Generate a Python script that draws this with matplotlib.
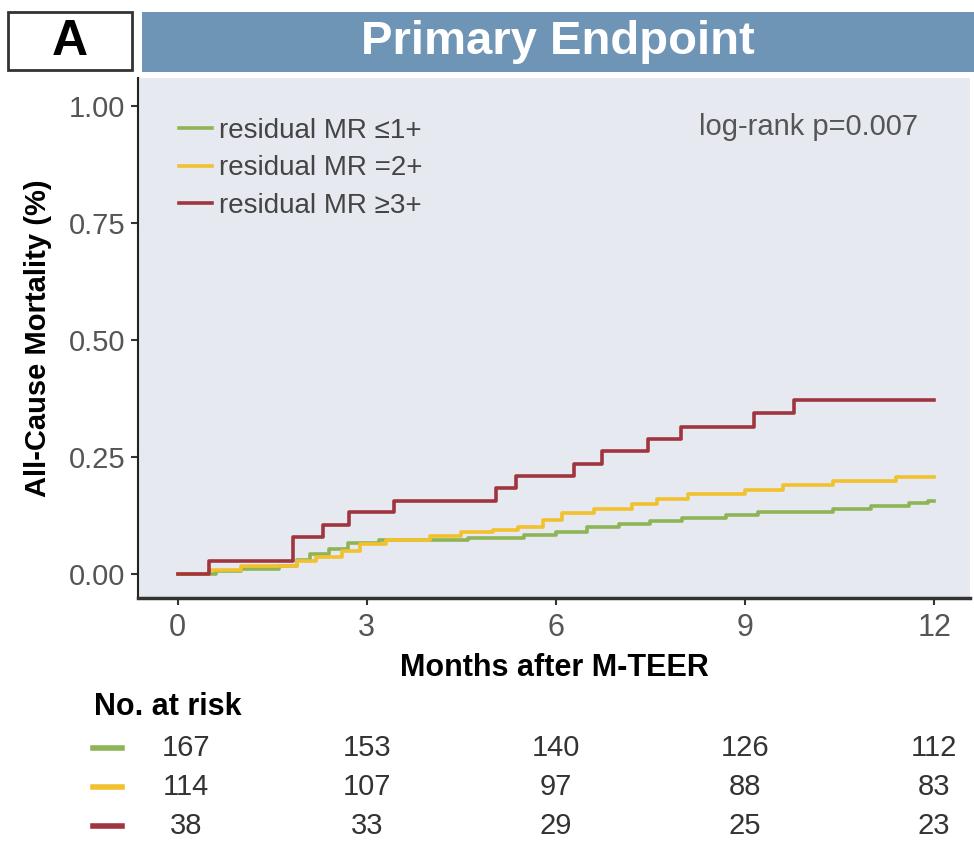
import matplotlib
matplotlib.use("Agg")
import matplotlib.pyplot as plt
import matplotlib.transforms as mtransforms
from matplotlib.patches import Rectangle

plt.rcParams['font.family'] = ['Liberation Sans', 'DejaVu Sans']

# Kaplan-Meier curves (months, cumulative mortality)
green_t = [0, 0.6, 1.0, 1.6, 1.9, 2.1, 2.4, 2.7, 3.2, 4.6, 5.5, 6.0, 6.5, 7.0, 7.5, 8.0, 8.7, 9.2, 10.4, 11.0, 11.6, 11.9, 12]
green_y = [0, 0.006, 0.012, 0.018, 0.03, 0.042, 0.054, 0.066, 0.072, 0.078, 0.084, 0.09, 0.10, 0.108, 0.114, 0.12, 0.127, 0.133, 0.139, 0.145, 0.151, 0.156, 0.156]

yellow_t = [0, 0.5, 1.0, 1.9, 2.2, 2.6, 2.9, 3.3, 4.0, 4.5, 5.0, 5.4, 5.8, 6.1, 6.6, 7.2, 7.6, 8.1, 9.0, 9.6, 10.4, 11.4, 12]
yellow_y = [0, 0.009, 0.018, 0.027, 0.036, 0.05, 0.064, 0.073, 0.082, 0.09, 0.095, 0.10, 0.115, 0.13, 0.14, 0.15, 0.16, 0.172, 0.18, 0.19, 0.2, 0.208, 0.208]

red_t = [0, 0.49, 1.83, 2.30, 2.71, 3.43, 5.05, 5.37, 6.29, 6.73, 7.46, 7.98, 9.14, 9.78, 12]
red_y = [0, 0.027, 0.080, 0.106, 0.132, 0.157, 0.183, 0.209, 0.236, 0.263, 0.289, 0.315, 0.345, 0.372, 0.372]

labels = ['residual MR \u22641+', 'residual MR =2+', 'residual MR \u22653+']
colors = ['#8db456', '#f2c12e', '#a0343f']

risk_times = [0, 3, 6, 9, 12]
risk_green = [167, 153, 140, 126, 112]
risk_yellow = [114, 107, 97, 88, 83]
risk_red = [38, 33, 29, 25, 23]

fig = plt.figure(figsize=(9.74, 8.44), dpi=100)
W, H = 974, 844

# header: panel letter box and title bar
fig.patches.append(Rectangle((8 / W, 1 - 70 / H), 124 / W, 58 / H, transform=fig.transFigure,
                             facecolor='white', edgecolor='#333333', linewidth=2))
fig.text(70 / W, 1 - 42 / H, 'A', fontsize=36, fontweight='bold', ha='center', va='center')
fig.patches.append(Rectangle((142 / W, 1 - 72 / H), 832 / W, 60 / H, transform=fig.transFigure,
                             facecolor='#6e94b6', edgecolor='none'))
fig.text(558 / W, 1 - 42 / H, 'Primary Endpoint', fontsize=34, fontweight='bold',
         color='white', ha='center', va='center')

# main axes
ax = fig.add_axes([138 / W, 1 - 598 / H, 832 / W, 520 / H])
ax.set_facecolor('#e6e9ef')

for t, y, c, lab in zip([green_t, yellow_t, red_t], [green_y, yellow_y, red_y], colors, labels):
    ax.step(t, y, where='post', color=c, linewidth=2.6, label=lab)

ax.set_xlim(-0.63, 12.57)
ax.set_ylim(-0.051, 1.06)
ax.set_xticks(risk_times)
ax.set_yticks([0, 0.25, 0.5, 0.75, 1.0])
ax.set_yticklabels(['0.00', '0.25', '0.50', '0.75', '1.00'])
ax.tick_params(axis='both', colors='#333333', labelcolor='#555555', length=5, width=1.5)
ax.tick_params(axis='y', labelsize=21, pad=4)
ax.tick_params(axis='x', labelsize=22, pad=6)

for s in ['top', 'right']:
    ax.spines[s].set_visible(False)
ax.spines['left'].set_color('#222222')
ax.spines['left'].set_linewidth(1.5)
ax.spines['bottom'].set_color('#333333')
ax.spines['bottom'].set_linewidth(2.5)

ax.set_xlabel('Months after M-TEER', fontsize=22, fontweight='bold', labelpad=7)
ax.set_ylabel('All-Cause Mortality (%)', fontsize=21, fontweight='bold', labelpad=12)

leg = ax.legend(loc='upper left', bbox_to_anchor=(0.036, 0.945), frameon=False, fontsize=20,
                handlelength=1.2, handletextpad=0.25, labelspacing=0.42, borderaxespad=0)
for txt in leg.get_texts():
    txt.set_color('#444444')

ax.text(0.938, 0.905, 'log-rank p=0.007', transform=ax.transAxes, fontsize=21,
        color='#555555', ha='right', va='center')

# number at risk table
trans = mtransforms.blended_transform_factory(ax.transData, fig.transFigure)
fig.text(94 / W, 1 - 707 / H, 'No. at risk', fontsize=22, fontweight='bold', va='center')
rows_y = [748, 787, 826]
for row, c, yy in zip([risk_green, risk_yellow, risk_red], colors, rows_y):
    fig.lines.append(plt.Line2D([93 / W, 122 / W], [1 - yy / H, 1 - yy / H], transform=fig.transFigure,
                                color=c, linewidth=4))
    for t, n in zip(risk_times, row):
        fig.text(t + (0.13 if t == 0 else 0), 1 - yy / H, str(n), transform=trans, fontsize=21,
                 color='#333333', ha='center', va='center')

fig.savefig('out.png', dpi=100)
